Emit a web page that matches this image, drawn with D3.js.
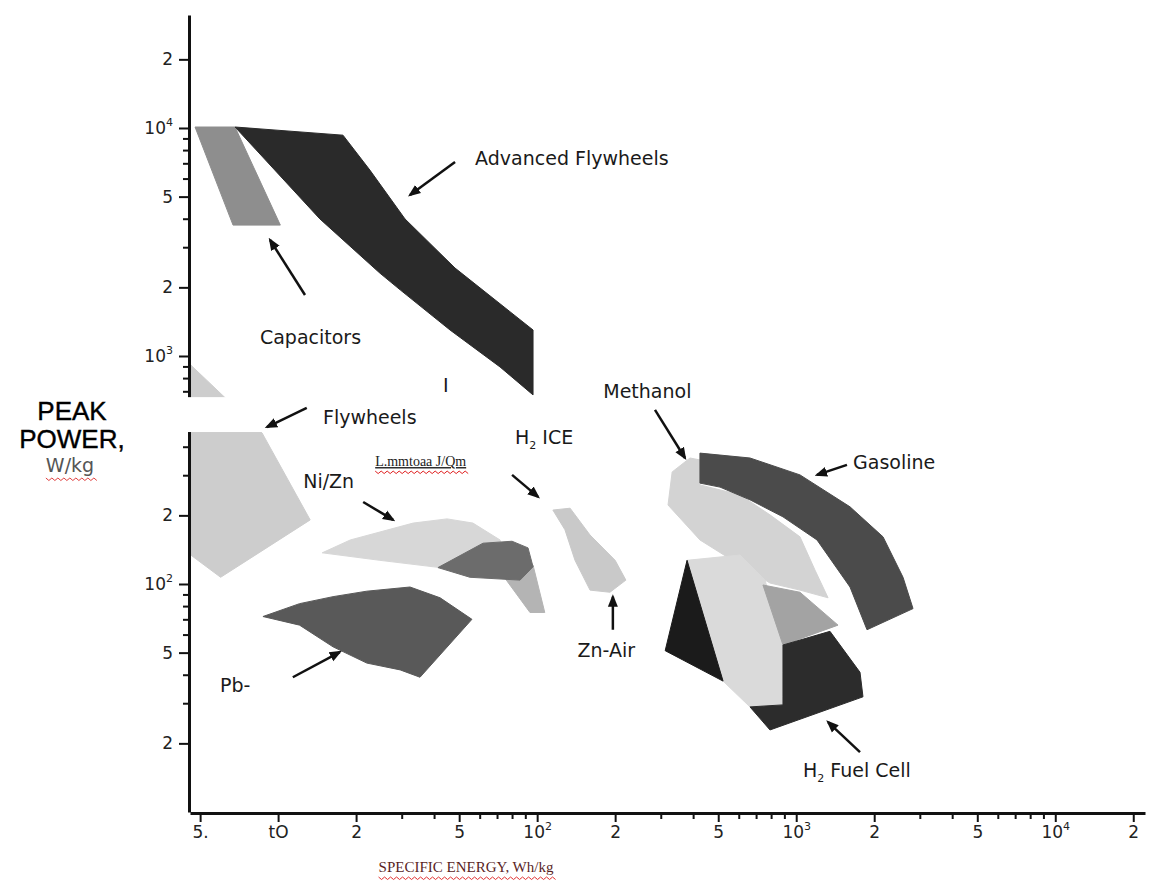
<!DOCTYPE html>
<html>
<head>
<meta charset="utf-8">
<script src="https://cdn.jsdelivr.net/npm/d3@7"></script>
<style>
  body { margin: 0; background: #fff; }
  .chart text { font-family: "DejaVu Sans", sans-serif; }
</style>
</head>
<body>
<div class="chart"></div>
<script>
// region outlines, [specific energy Wh/kg, peak power W/kg]
const flywheels = [[4.6, 913], [8.67, 460], [13.3, 191], [6.0, 107], [4.6, 134]];
const niZn = [[14.8, 137], [19.0, 156], [33.2, 185], [44.9, 193], [56.5, 185], [71.9, 156],
              [75.1, 121], [55.1, 107], [42.2, 118], [24.7, 127]];
const niCd = [[41.4, 118], [61.8, 151], [80.0, 154], [92.2, 144], [96.4, 119], [85.9, 104], [55.1, 107]];
const niCdTail = [[75.1, 106], [96.4, 121], [107, 75], [93.8, 75]];
const zincAir = [[115, 211], [134, 215], [160, 164], [200, 127], [220, 104], [191, 92],
                 [160, 94], [140, 127], [128, 173]];
const pbAcid = [[8.74, 72], [12.1, 82], [16.3, 88], [22.0, 93], [32.3, 97], [42.2, 87], [56.0, 70],
                [35.3, 39], [29.6, 42], [22.0, 45], [16.3, 53], [12.1, 66]];
const capacitors = [[4.78, 10100], [6.82, 10100], [10.2, 3750], [6.70, 3750]];
const advFlywheels = [[6.82, 10100], [17.8, 9300], [22.6, 6540], [30.9, 3990], [48.2, 2430], [96.4, 1300],
                      [96.4, 675], [71.9, 895], [46.1, 1300], [29.6, 1950], [24.7, 2310], [14.5, 3990]];
const methanol = [[332, 310], [389, 357], [425, 350], [425, 272], [607, 246], [792, 201], [1034, 161],
                  [1182, 115], [1327, 87], [1034, 94], [792, 101], [607, 121], [425, 156], [320, 222]];
const fuelCellLight = [[379, 127], [607, 134], [758, 104], [889, 54], [905, 29.5], [663, 28.9], [522, 37.5]];
const gasoline = [[425, 375], [663, 357], [1034, 301], [1613, 218], [2163, 161], [2584, 107], [2824, 78],
                  [1876, 63], [1613, 97], [1203, 156], [889, 197], [663, 234], [508, 266], [425, 277]];
const fuelCellMid = [[744, 99], [1034, 92], [1450, 66], [889, 54]];
const fuelCellDark = [[663, 28.9], [889, 29.5], [889, 54], [1350, 62], [1763, 41], [1810, 32], [792, 22.9]];
const fuelCellBlack = [[379, 127], [312, 51], [522, 37.5]];

// axis ticks
const xMajor = [5, 10, 20, 50, 100, 200, 500, 1000, 2000, 5000, 10000, 20000];
const xMajorLabels = ['5.', 'tO', '2', '5', '10|2', '2', '5', '10|3', '2', '5', '10|4', '2'];
const xMinor = [30, 40, 60, 70, 80, 90, 300, 400, 600, 700, 800, 900, 3000, 4000, 6000, 7000, 8000, 9000];
const yMajor = [20000, 10000, 5000, 2000, 1000, 200, 100, 50, 20];
const yMajorLabels = ['2', '10|4', '5', '2', '10|3', '2', '10|2', '5', '2'];
const yMinor = [9000, 8000, 7000, 6000, 4000, 3000, 900, 800, 700, 500, 400, 300, 90, 80, 70, 60, 40, 30];

// gap in the chart (W/kg)
const gapPower = [464, 660];

// annotations: text anchor, arrow from, arrow to
const labels = [
  {text: 'Advanced Flywheels', at: [57.6, 6880], from: [48.2, 7095], to: [32.3, 5083]},
  {text: 'Capacitors', at: [8.51, 1129], from: [12.7, 1851], to: [9.31, 3227]},
  {text: 'I', at: [43.3, 695]},
  {text: 'Flywheels', at: [14.9, 503], from: [12.9, 592], to: [9.06, 488]},
  {text: 'Ni/Zn', at: [12.5, 264], from: [21.3, 229], to: [27.8, 191]},
  {text: 'H|2| ICE', at: [82.1, 411]},
  {text: 'Methanol', at: [180, 654], from: [285, 580], to: [372, 357]},
  {text: 'Gasoline', at: [1657, 319], from: [1570, 333], to: [1203, 301]},
  {text: 'Zn-Air', at: [143, 47.8], from: [196, 63], to: [196, 88]},
  {text: 'Pb-', at: [5.97, 33.6], from: [11.4, 39], to: [17.3, 50.3]},
  {text: 'H|2| Fuel Cell', at: [1062, 14.2], from: [1763, 18.3], to: [1327, 24.8]}
];
const liLabel = {text: 'L.mmtoaa J/Qm', at: [23.7, 329], from: [80.0, 301], to: [100.8, 241]};

const width = 1155;
const height = 883;

const svg = d3.select('.chart')
              .append('svg')
              .attr('width', width)
              .attr('height', height);

const x = d3.scaleLog()
            .domain([4.57, 22200])
            .range([190, 1145]);

const y = d3.scaleLog()
            .domain([10, 31300])
            .range([812, 15]);

const line = d3.line()
               .x(d => x(d[0]))
               .y(d => y(d[1]))
               .curve(d3.curveLinearClosed);

const layers = [
  [flywheels, '#cdcdcd'],
  [niZn, '#d7d7d7'],
  [zincAir, '#c9c9c9'],
  [niCdTail, '#b4b4b4'],
  [niCd, '#6c6c6c'],
  [pbAcid, '#595959'],
  [capacitors, '#8e8e8e'],
  [advFlywheels, '#2a2a2a'],
  [methanol, '#d3d3d3'],
  [fuelCellLight, '#dadada'],
  [gasoline, '#4b4b4b'],
  [fuelCellMid, '#a3a3a3'],
  [fuelCellDark, '#2c2c2c'],
  [fuelCellBlack, '#1b1b1b']
];

svg.append('g')
   .selectAll('path')
   .data(layers)
   .enter().append('path')
   .attr('d', d => line(d[0]))
   .attr('fill', d => d[1])
   .attr('stroke', d => d[1])
   .attr('stroke-width', 1);

// axes
function supLabel(sel, labelsArr, values) {
  sel.selectAll('.tick text').each(function(d) {
    const parts = labelsArr[values.indexOf(d)].split('|');
    const t = d3.select(this).text(parts[0]);
    if (parts.length > 1) {
      t.append('tspan').attr('font-size', 11).attr('dy', -8).text(parts[1]);
    }
  });
}

const xAxis = svg.append('g')
   .attr('transform', `translate(0,${y(10) + 1})`);
xAxis.append('g')
   .call(d3.axisBottom(x).tickValues(xMinor).tickSize(6).tickSizeOuter(0).tickFormat(''))
   .call(g => g.select('.domain').remove());
xAxis.append('g')
   .call(d3.axisBottom(x).tickValues(xMajor).tickSize(9).tickSizeOuter(0).tickPadding(4))
   .call(g => supLabel(g, xMajorLabels, xMajor));

const yAxis = svg.append('g')
   .attr('transform', `translate(${x.range()[0] - 1},0)`);
yAxis.append('g')
   .call(d3.axisLeft(y).tickValues(yMinor).tickSize(6).tickSizeOuter(0).tickFormat(''))
   .call(g => g.select('.domain').remove());
yAxis.append('g')
   .call(d3.axisLeft(y).tickValues(yMajor).tickSize(10).tickSizeOuter(0).tickPadding(6))
   .call(g => supLabel(g, yMajorLabels, yMajor));

svg.selectAll('.domain').attr('stroke', '#111').attr('stroke-width', 3);
svg.selectAll('.tick line').attr('stroke', '#111').attr('stroke-width', 2);
svg.selectAll('.tick text').attr('font-size', 17).attr('fill', '#222')
   .style('font-family', '"DejaVu Sans", sans-serif');

// blank band across the left part of the chart
svg.append('rect')
   .attr('x', 150)
   .attr('y', y(gapPower[1]))
   .attr('width', x(110) - 150)
   .attr('height', y(gapPower[0]) - y(gapPower[1]))
   .attr('fill', '#fff');

// arrows
svg.append('defs').append('marker')
   .attr('id', 'head')
   .attr('viewBox', '0 0 10 10')
   .attr('refX', 8).attr('refY', 5)
   .attr('markerWidth', 5).attr('markerHeight', 5)
   .attr('orient', 'auto')
   .append('path')
   .attr('d', 'M0,1L10,5L0,9z')
   .attr('fill', '#111');

const arrows = labels.concat([liLabel]).filter(d => d.from);
svg.append('g')
   .selectAll('line')
   .data(arrows)
   .enter().append('line')
   .attr('x1', d => x(d.from[0]))
   .attr('y1', d => y(d.from[1]))
   .attr('x2', d => x(d.to[0]))
   .attr('y2', d => y(d.to[1]))
   .attr('stroke', '#111')
   .attr('stroke-width', 2.5)
   .attr('marker-end', 'url(#head)');

svg.append('g')
   .selectAll('text')
   .data(labels)
   .enter().append('text')
   .attr('x', d => x(d.at[0]))
   .attr('y', d => y(d.at[1]))
   .attr('font-size', 19)
   .attr('fill', '#1a1a1a')
   .each(function(d) {
     const parts = d.text.split('|');
     const t = d3.select(this).text(parts[0]);
     if (parts.length > 1) {
       t.append('tspan').attr('font-size', 11).attr('dy', 5).text(parts[1]);
       t.append('tspan').attr('dy', -5).text(parts[2]);
     }
   });

// red spell-check squiggle under a text element
function squiggle(textSel, color) {
  const b = textSel.node().getBBox();
  const yy = b.y + b.height + 2;
  let d = `M${b.x},${yy}`;
  for (let px = b.x, k = 0; px < b.x + b.width; px += 3, k++) {
    d += `L${px + 3},${yy + (k % 2 ? 0 : 2.5)}`;
  }
  svg.append('path').attr('d', d).attr('fill', 'none')
     .attr('stroke', color).attr('stroke-width', 1);
}

const li = svg.append('text')
   .attr('x', x(liLabel.at[0]))
   .attr('y', y(liLabel.at[1]))
   .attr('font-size', 14)
   .attr('fill', '#222')
   .style('font-family', '"Liberation Serif", serif')
   .style('text-decoration', 'underline')
   .text(liLabel.text);
squiggle(li, '#e02020');

// axis titles
svg.append('text')
   .attr('x', 72).attr('y', 420)
   .attr('text-anchor', 'middle')
   .attr('font-size', 26)
   .attr('fill', '#000')
   .attr('stroke', '#000').attr('stroke-width', 0.4)
   .style('font-family', '"Liberation Sans", Arial, sans-serif')
   .text('PEAK');
svg.append('text')
   .attr('x', 72).attr('y', 448)
   .attr('text-anchor', 'middle')
   .attr('font-size', 26)
   .attr('fill', '#000')
   .attr('stroke', '#000').attr('stroke-width', 0.4)
   .style('font-family', '"Liberation Sans", Arial, sans-serif')
   .text('POWER,');
const wkg = svg.append('text')
   .attr('x', 70).attr('y', 472)
   .attr('text-anchor', 'middle')
   .attr('font-size', 19)
   .attr('fill', '#555')
   .text('W/kg');
squiggle(wkg, '#e04040');

const xt = svg.append('text')
   .attr('x', 466).attr('y', 872)
   .attr('text-anchor', 'middle')
   .attr('font-size', 15)
   .attr('fill', '#5a1f1f')
   .style('font-family', '"Liberation Serif", serif')
   .text('SPECIFIC  ENERGY,  Wh/kg');
squiggle(xt, '#e03030');
</script>
</body>
</html>
